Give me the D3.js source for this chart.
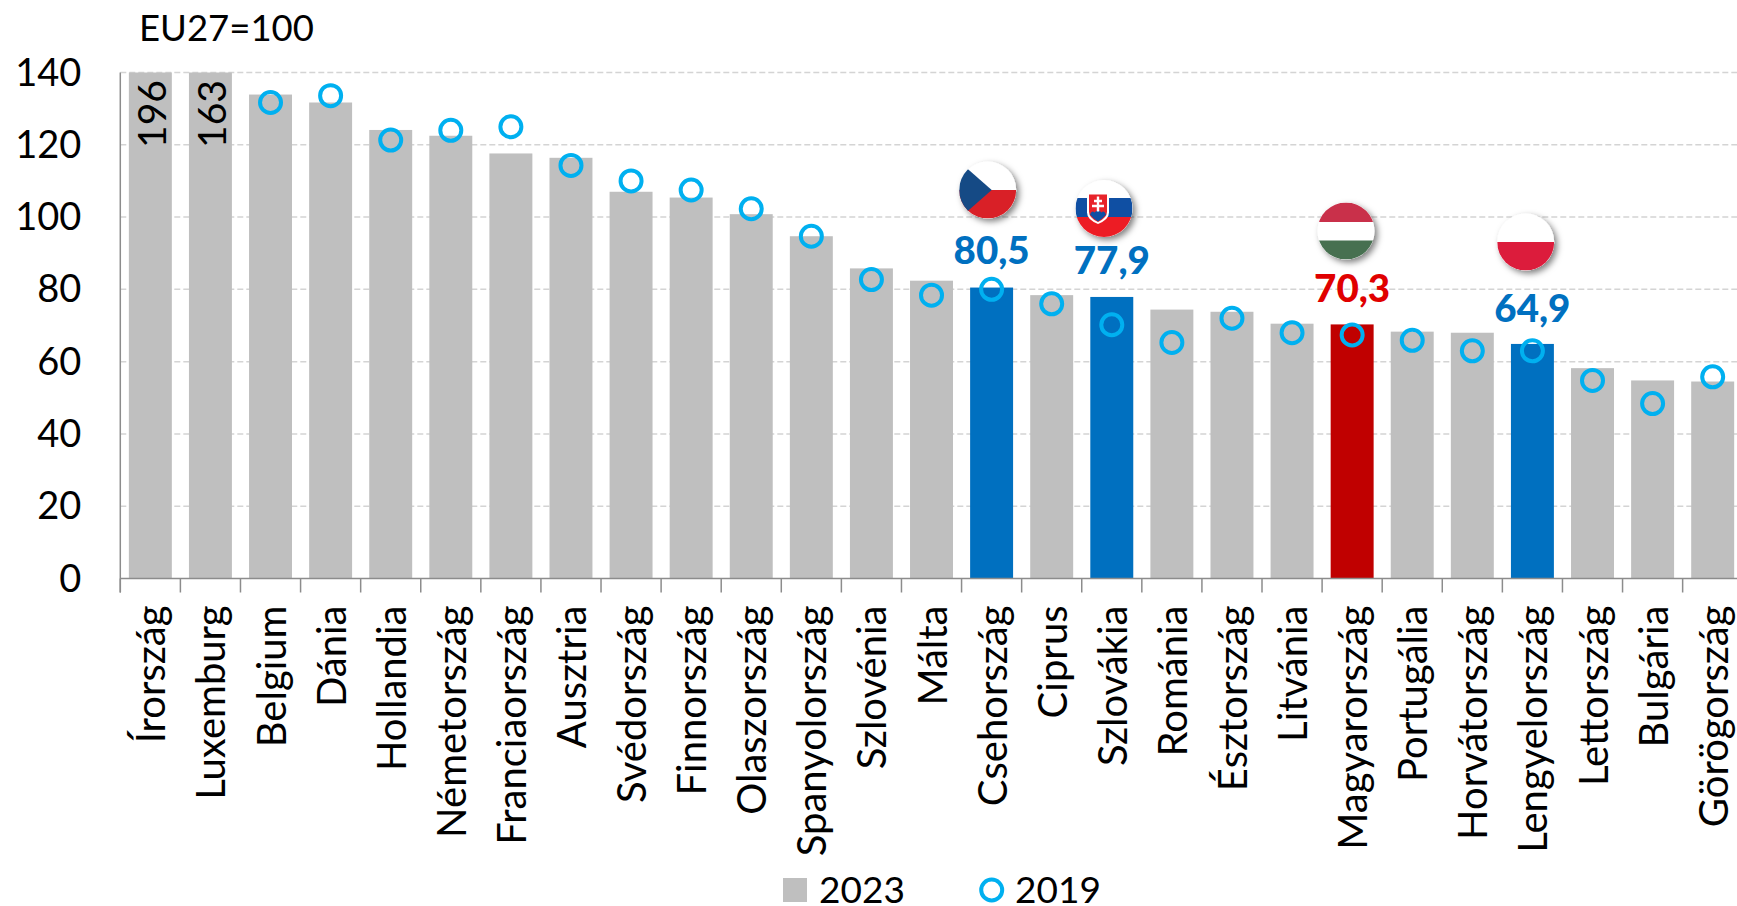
<!DOCTYPE html>
<html>
<head>
<meta charset="utf-8">
<script src="https://cdn.jsdelivr.net/npm/d3@7"></script>
<style>
  html, body { margin: 0; padding: 0; background: #fff; overflow: hidden; }
  svg { display: block; }
  text { font-family: Lato, "Open Sans", sans-serif; fill: #000; }
</style>
</head>
<body>
<svg width="1737" height="906"></svg>
<script>
const countries = ['Írország', 'Luxemburg', 'Belgium', 'Dánia', 'Hollandia', 'Németország', 'Franciaország',
  'Ausztria', 'Svédország', 'Finnország', 'Olaszország', 'Spanyolország', 'Szlovénia', 'Málta', 'Csehország',
  'Ciprus', 'Szlovákia', 'Románia', 'Észtország', 'Litvánia', 'Magyarország', 'Portugália', 'Horvátország',
  'Lengyelország', 'Lettország', 'Bulgária', 'Görögország'];
const values2023 = [196, 163, 133.9, 131.7, 124.1, 122.5, 117.6, 116.4, 107, 105.4, 100.8, 94.7, 85.8, 82.4, 80.5,
  78.4, 77.9, 74.4, 73.8, 70.5, 70.3, 68.3, 68, 64.9, 58.2, 54.8, 54.5];
const values2019 = [null, null, 131.7, 133.6, 121.3, 124, 125, 114.3, 110, 107.5, 102.3, 94.7, 82.7, 78.4, 80,
  76, 70.2, 65.3, 72, 68, 67.4, 65.9, 63, 63, 54.8, 48.4, 55.8];
const yTicks = [0, 20, 40, 60, 80, 100, 120, 140];
const blueCountries = ['Csehország', 'Szlovákia', 'Lengyelország'];
const redCountries = ['Magyarország'];
const overflowLabels = ['Írország', 'Luxemburg'];
const highlightLabels = ['Csehország', 'Szlovákia', 'Magyarország', 'Lengyelország'];

const GREY = '#bfbfbf', BLUE = '#0070c0', RED = '#c00000', CYAN = '#00b0f0';
const X0 = 120.3, STEP = 60.09, Y0 = 578.5, Y140 = 72.5;
const AXIS_COLOR = '#8c8c8c';

const svg = d3.select('svg');
const rows = countries.map((c, i) => ({ name: c, v23: values2023[i], v19: values2019[i] }));

const x = d3.scaleBand().domain(countries).range([X0, X0 + STEP * countries.length]).paddingInner(0.285).paddingOuter(0.1425);
// the two biggest bars run off the top of the axis, so the scale clamps them
const y = d3.scaleLinear().domain([0, 140]).range([Y0, Y140]).clamp(true);
const tickX = d3.scaleBand().domain(countries).range(x.range());

const defs = svg.append('defs');
const shadow = defs.append('filter').attr('id', 'flagShadow')
  .attr('x', '-30%').attr('y', '-30%').attr('width', '170%').attr('height', '170%');
shadow.append('feDropShadow').attr('dx', 3).attr('dy', 3).attr('stdDeviation', 3)
  .attr('flood-color', '#000').attr('flood-opacity', 0.5);

// gridlines
svg.append('g').selectAll('line').data(yTicks.filter(d => d > 0)).join('line')
  .attr('x1', X0).attr('x2', 1737)
  .attr('y1', d => y(d)).attr('y2', d => y(d))
  .attr('stroke', '#d4d4d4').attr('stroke-width', 1.5).attr('stroke-dasharray', '6 3');

// bars
svg.append('g').selectAll('rect').data(rows).join('rect')
  .attr('x', d => x(d.name)).attr('width', x.bandwidth())
  .attr('y', d => y(d.v23)).attr('height', d => Y0 - y(d.v23))
  .attr('fill', d => blueCountries.includes(d.name) ? BLUE : redCountries.includes(d.name) ? RED : GREY);

// axes
const yAxis = d3.axisLeft(y).tickValues(yTicks).tickSize(0).tickPadding(39);
const yG = svg.append('g').attr('transform', `translate(${X0},0)`).call(yAxis);
yG.select('.domain').attr('d', `M0,${Y140}V${Y0 + 14}`).attr('stroke', AXIS_COLOR).attr('stroke-width', 1.5);
yG.selectAll('text').attr('font-size', 38).attr('dy', '0.33em').style('font-family', 'Lato');

const xAxis = d3.axisBottom(tickX).tickSize(0).tickFormat(d => d);
const xG = svg.append('g').attr('transform', `translate(0,${Y0})`).call(xAxis);
xG.select('.domain').attr('d', `M${X0},0H1737`).attr('stroke', AXIS_COLOR).attr('stroke-width', 1.5);
xG.selectAll('.tick line').attr('y2', 14).attr('x1', -STEP / 2).attr('x2', -STEP / 2)
  .attr('stroke', AXIS_COLOR).attr('stroke-width', 1.5);
xG.selectAll('.tick text')
  .attr('transform', 'translate(15,27) rotate(-90)')
  .attr('x', 0).attr('y', 0).attr('dy', 0)
  .attr('text-anchor', 'end')
  .attr('font-size', 40)
  .style('font-family', 'Lato');

// values of the two bars cut by the axis
svg.append('g').selectAll('text').data(rows.filter(d => overflowLabels.includes(d.name))).join('text')
  .attr('transform', d => `translate(${x(d.name) + x.bandwidth() / 2 + 16},80) rotate(-90)`)
  .attr('text-anchor', 'end').attr('font-size', 39)
  .attr('fill', '#1a1a1a')
  .text(d => d.v23);

// 2019 markers
svg.append('g').selectAll('circle').data(rows.filter(d => d.v19 !== null)).join('circle')
  .attr('cx', d => x(d.name) + x.bandwidth() / 2)
  .attr('cy', d => y(d.v19))
  .attr('r', 10.5)
  .attr('fill', 'none').attr('stroke', CYAN).attr('stroke-width', 4);

// highlighted values
const labelBaseline = { 'Csehország': 264, 'Szlovákia': 274, 'Magyarország': 302, 'Lengyelország': 322 };
svg.append('g').selectAll('text').data(rows.filter(d => highlightLabels.includes(d.name))).join('text')
  .attr('x', d => x(d.name) + x.bandwidth() / 2)
  .attr('y', d => labelBaseline[d.name])
  .attr('text-anchor', 'middle')
  .attr('font-size', 38.5).attr('font-weight', 900)
  .style('fill', d => redCountries.includes(d.name) ? '#e00000' : BLUE)
  .text(d => d3.format('.1f')(d.v23).replace('.', ','));

// flags
function flag(id, cx, cy, draw) {
  const R = 28.5;
  defs.append('clipPath').attr('id', id).append('circle').attr('r', R);
  const g = svg.append('g').attr('transform', `translate(${cx},${cy})`);
  g.append('circle').attr('r', R).attr('fill', '#fff').attr('filter', 'url(#flagShadow)');
  draw(g.append('g').attr('clip-path', `url(#${id})`), R);
}
const stripe = (g, R, y0, y1, fill) => g.append('rect')
  .attr('x', -R).attr('width', 2 * R).attr('y', y0).attr('height', y1 - y0).attr('fill', fill);

flag('czFlag', 987.7, 190, (g, R) => {
  stripe(g, R, 0, R, '#d92027');
  g.append('path').attr('d', `M${-R},${-R}L${-R},${R}L4,0Z`).attr('fill', '#154a85');
});
flag('skFlag', 1104, 208.5, (g, R) => {
  stripe(g, R, -10.5, 8.5, '#0f4fa3');
  stripe(g, R, 8.5, R, '#ed1c24');
  g.append('path').attr('d', 'M-17,-16H5V4Q5,11 -6,15.5Q-17,11 -17,4Z').attr('fill', '#fff');
  g.append('path').attr('d', 'M-15,-14H3V3Q3,9.5 -6,13.5Q-15,9.5 -15,3Z').attr('fill', '#e8232a');
  g.append('path').attr('d', 'M-14,6Q-12,1 -9.5,4Q-6,0 -2.5,4Q0,1 2,6Q-1,10 -6,13Q-11,10 -14,6Z').attr('fill', '#0f4fa3');
  g.append('path').attr('d', 'M-6,-12V3M-10,-7.5H-2M-12,-2.5H0').attr('stroke', '#fff').attr('stroke-width', 2.4).attr('fill', 'none');
});
flag('huFlag', 1346, 231, (g, R) => {
  stripe(g, R, -R, -9, '#c9304a');
  stripe(g, R, 9.5, R, '#477050');
});
flag('plFlag', 1525.7, 242, (g, R) => {
  stripe(g, R, 0, R, '#dc1c3c');
});

// title
svg.append('text').attr('x', 139).attr('y', 41).attr('font-size', 36.5).text('EU27=100');

// legend
const legend = svg.append('g');
legend.append('rect').attr('x', 783).attr('y', 878).attr('width', 24).attr('height', 24).attr('fill', GREY);
legend.append('text').attr('x', 819).attr('y', 903).attr('font-size', 37).text('2023');
legend.append('circle').attr('cx', 991.7).attr('cy', 890).attr('r', 10.5)
  .attr('fill', 'none').attr('stroke', CYAN).attr('stroke-width', 4);
legend.append('text').attr('x', 1015).attr('y', 903).attr('font-size', 37).text('2019');
</script>
</body>
</html>
